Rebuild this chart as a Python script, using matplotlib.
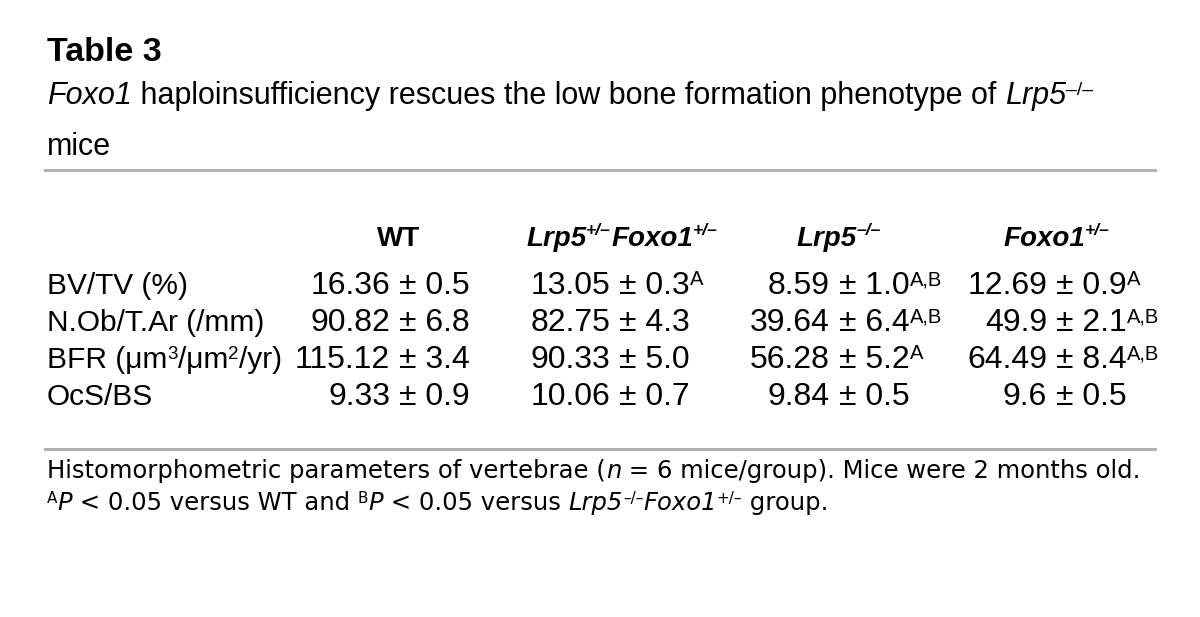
import matplotlib
matplotlib.use("Agg")
import matplotlib.pyplot as plt
from matplotlib.font_manager import FontProperties

# --- table content ---
title = "Table 3"
subtitle_1 = [("Foxo1", "i"), (" haploinsufficiency rescues the low bone formation phenotype of ", ""),
              ("Lrp5", "i"), ("–/–", "s")]
subtitle_2 = [("mice", "")]
col_headers = [[("WT", "b")],
               [("Lrp5", "bi"), ("+/–", "sbi"), ("Foxo1", "bi"), ("+/–", "sbi")],
               [("Lrp5", "bi"), ("–/–", "sbi")],
               [("Foxo1", "bi"), ("+/–", "sbi")]]
row_labels = [[("BV/TV (%)", "")],
              [("N.Ob/T.Ar (/mm)", "")],
              [("BFR (μm", ""), ("3", "s"), ("/μm", ""), ("2", "s"), ("/yr)", "")],
              [("OcS/BS", "")]]
means = [["16.36", "13.05", "8.59", "12.69"],
         ["90.82", "82.75", "39.64", "49.9"],
         ["115.12", "90.33", "56.28", "64.49"],
         ["9.33", "10.06", "9.84", "9.6"]]
sems = [["0.5", "0.3", "1.0", "0.9"],
        ["6.8", "4.3", "6.4", "2.1"],
        ["3.4", "5.0", "5.2", "8.4"],
        ["0.9", "0.7", "0.5", "0.5"]]
sig = [["", "A", "A,B", "A"],
       ["", "", "A,B", "A,B"],
       ["", "", "A", "A,B"],
       ["", "", "", ""]]
foot_1 = [("Histomorphometric parameters of vertebrae (", ""), ("n", "i"),
          (" = 6 mice/group). Mice were 2 months old.", "")]
foot_2 = [("A", "s"), ("P", "i"), (" < 0.05 versus WT and ", ""), ("B", "s"), ("P", "i"),
          (" < 0.05 versus ", ""), ("Lrp5", "i"), ("–/–", "s"), ("Foxo1", "i"), ("+/–", "s"),
          (" group.", "")]

FONT = "Liberation Sans"
FOOT_FONT = "DejaVu Sans"
SUP = 0.63

W, H = 1200, 617
fig = plt.figure(figsize=(12, 6.17), dpi=100)
renderer = fig.canvas.get_renderer()


def props(style, size, family):
    return FontProperties(family=family, size=size,
                          weight="bold" if "b" in style else "normal",
                          style="italic" if "i" in style else "normal")


def advance(text, fp):
    # width incl. spaces: measure between two bars
    w1 = renderer.get_text_width_height_descent("|" + text + "|", fp, ismath=False)[0]
    w0 = renderer.get_text_width_height_descent("||", fp, ismath=False)[0]
    return w1 - w0


def draw_runs(x, y, runs, size, ha="left", family=FONT, lift=0.3):
    parts = []
    for text, style in runs:
        sz = size * SUP if "s" in style else size
        fp = props(style, sz, family)
        parts.append((text, fp, "s" in style, advance(text, fp)))
    total = sum(p[3] for p in parts)
    if ha == "center":
        x -= total / 2
    elif ha == "right":
        x -= total
    px_size = size * 100 / 72
    for text, fp, sup, w in parts:
        yy = y - (lift * px_size if sup else 0)
        fig.text(x / W, 1 - yy / H, text, fontproperties=fp, va="baseline", ha="left")
        x += w


def rule(y):
    fig.add_artist(plt.Line2D([45 / W, 1155 / W], [1 - y / H] * 2,
                              color="#b3b3b3", lw=2.2))


fig.text(47 / W, 1 - 61 / H, title, family=FONT, fontsize=24.5, fontweight="bold", va="baseline")
draw_runs(47, 104, subtitle_1, 22)
draw_runs(47, 155, subtitle_2, 22)
rule(170)

header_x = [399, 622, 839, 1057]
pm_x = [399, 619, 839, 1056]
for x, h in zip(header_x, col_headers):
    draw_runs(x, 246, h, 20, ha="center", lift=0.38)

row_y = [294, 331, 368, 405]
for i, y in enumerate(row_y):
    draw_runs(47, y, row_labels[i], 21.5)
    for j, x in enumerate(pm_x):
        draw_runs(x - 9, y, [(means[i][j], "")], 23, ha="right")
        cell = [("± " + sems[i][j], "")]
        if sig[i][j]:
            cell.append((sig[i][j], "s"))
        draw_runs(x, y, cell, 23, lift=0.27)

rule(449)
draw_runs(47, 478, foot_1, 17.5, family=FOOT_FONT)
draw_runs(47, 510, foot_2, 17.5, family=FOOT_FONT)

fig.savefig("out.png", dpi=100)
